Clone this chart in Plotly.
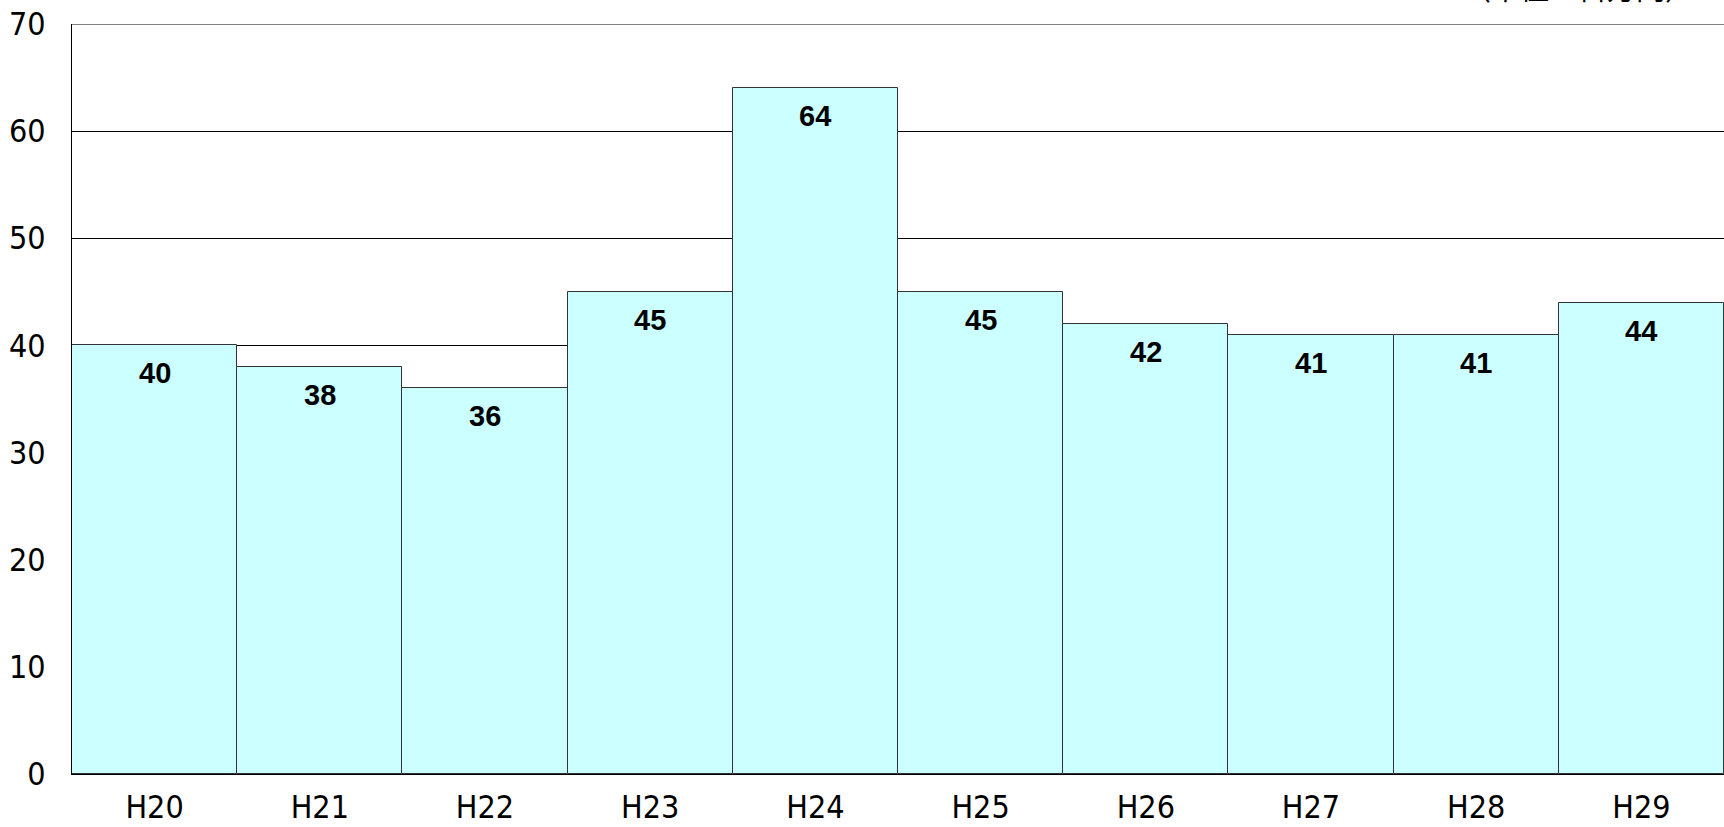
import plotly.graph_objects as go

categories = ["H20", "H21", "H22", "H23", "H24", "H25", "H26", "H27", "H28", "H29"]
values = [40, 38, 36, 45, 64, 45, 42, 41, 41, 44]
y_ticks = [0, 10, 20, 30, 40, 50, 60, 70]
unit_label = "（単位：百万円）"

TICK_FONT = "DejaVu Sans Condensed, Liberation Sans, sans-serif"
LABEL_FONT = "Liberation Sans, Arial, sans-serif"

fig = go.Figure()
fig.add_trace(go.Bar(
    x=categories, y=values,
    marker=dict(color="#CCFFFF", line=dict(color="#333333", width=1)),
    hoverinfo="skip",
))

for c, v in zip(categories, values):
    fig.add_annotation(x=c, y=v, text=str(v), showarrow=False,
                       yanchor="middle", yshift=-28,
                       font=dict(family=LABEL_FONT, size=29, color="black", weight="bold"))

fig.add_annotation(xref="paper", yref="paper", x=1.0, y=1.0, xanchor="right", yanchor="bottom",
                   xshift=-28, yshift=14, text=unit_label, showarrow=False,
                   font=dict(family="Noto Sans CJK JP", size=29, color="black"))

# top border of the plot area
fig.add_shape(type="line", xref="paper", yref="y", x0=0, x1=1, y0=y_ticks[-1], y1=y_ticks[-1],
              line=dict(color="black", width=1))

fig.update_layout(
    width=1724, height=827,
    margin=dict(l=72, r=0, t=24, b=53),
    plot_bgcolor="white", paper_bgcolor="white",
    bargap=0,
    showlegend=False,
    xaxis=dict(showgrid=False, showline=True, linecolor="black", linewidth=1, automargin=False,
               ticks="", tickfont=dict(family=TICK_FONT, size=32, color="black"),
               ticklabelstandoff=5),
    yaxis=dict(range=[0, 70], tickvals=y_ticks, showgrid=True, gridcolor="black", gridwidth=1,
               showline=True, linecolor="black", linewidth=1, zeroline=False, automargin=False,
               ticks="", tickfont=dict(family=TICK_FONT, size=32, color="black"),
               ticklabelstandoff=19),
)

fig.write_html("out.html")
